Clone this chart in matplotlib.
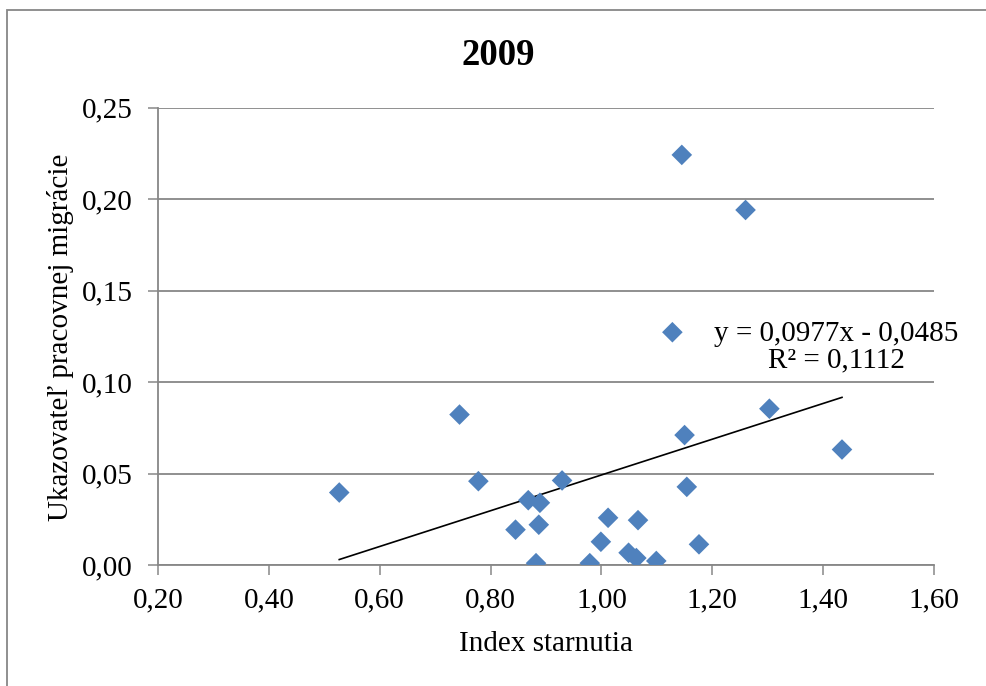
#!/usr/bin/env python3
# -*- coding: utf-8 -*-

import numpy as np
import matplotlib
matplotlib.use("Agg")
import matplotlib.pyplot as plt
from matplotlib.patches import Rectangle

plt.rcParams['font.family'] = ['Liberation Serif', 'DejaVu Serif']

# index starnutia (x) vs ukazovatel pracovnej migracie (y), rok 2009
index_starnutia = [0.527, 0.744, 0.778, 0.868, 0.889, 0.929, 0.845, 0.887,
                   0.882, 0.979, 0.999, 1.012, 1.066, 1.049, 1.063, 1.099,
                   1.150, 1.154, 1.176, 1.145, 1.260, 1.128, 1.303, 1.434]
migracia = [0.0396, 0.0822, 0.0458, 0.0354, 0.0340, 0.0462, 0.0193, 0.0220,
            0.0010, 0.0010, 0.0127, 0.0258, 0.0245, 0.0067, 0.0038, 0.0022,
            0.0710, 0.0427, 0.0113, 0.2241, 0.1940, 0.1272, 0.0854, 0.0631]

# trend line coefficients as printed in the chart
slope = 0.0977
intercept = -0.0485

x_ticks = [0.20, 0.40, 0.60, 0.80, 1.00, 1.20, 1.40, 1.60]
x_labels = ['0,20', '0,40', '0,60', '0,80', '1,00', '1,20', '1,40', '1,60']
y_ticks = [0.00, 0.05, 0.10, 0.15, 0.20, 0.25]
y_labels = ['0,00', '0,05', '0,10', '0,15', '0,20', '0,25']

grid_col = '#878787'
blue = '#4F81BD'

W, H = 987, 686
fig = plt.figure(figsize=(W / 100, H / 100), dpi=100)
ax = fig.add_axes([158 / W, 1 - 565 / H, (934 - 158) / W, (565 - 107.5) / H])

# outer chart frame (cut off on the right and bottom in the original)
fig.patches.append(Rectangle((7 / W, -0.1), 2.0, (H - 10) / H + 0.1,
                             transform=fig.transFigure, fill=False,
                             edgecolor=grid_col, linewidth=1.3))

ax.scatter(index_starnutia, migracia, marker='D', s=10.5 ** 2, color=blue,
           edgecolors='none', zorder=3)

xs = np.array([min(index_starnutia), max(index_starnutia)])
ax.plot(xs, slope * xs + intercept, color='black', linewidth=1.2, zorder=2)

ax.set_xlim(0.2, 1.6)
ax.set_ylim(0.0, 0.25)
ax.set_xticks(x_ticks)
ax.set_xticklabels(x_labels)
ax.set_yticks(y_ticks)
ax.set_yticklabels(y_labels)
ax.tick_params(axis='both', labelsize=21, color=grid_col, width=1.1, length=7)
ax.tick_params(axis='y', pad=11)
ax.tick_params(axis='x', pad=9)

ax.yaxis.grid(True, color=grid_col, linewidth=1.3)
ax.set_axisbelow(True)
for s in ['top', 'right']:
    ax.spines[s].set_visible(False)
for s in ['left', 'bottom']:
    ax.spines[s].set_color(grid_col)
    ax.spines[s].set_linewidth(1.3)

fig.text(498 / W, 1 - 65 / H, '2009', fontsize=26.5, fontweight='bold',
         ha='center', va='baseline')
fig.text(546 / W, 1 - 651 / H, 'Index starnutia', fontsize=21,
         ha='center', va='baseline')
fig.text(61 / W, 1 - 337 / H, 'Ukazovateľ pracovnej migrácie', fontsize=21,
         ha='center', va='center', rotation=90)

ax.text(836 / W, 1 - 347 / H, 'y = 0,0977x - 0,0485\nR² = 0,1112',
        transform=fig.transFigure, ha='center', va='center',
        multialignment='center', fontsize=21, linespacing=1.0)

fig.savefig('out.png', dpi=100)
